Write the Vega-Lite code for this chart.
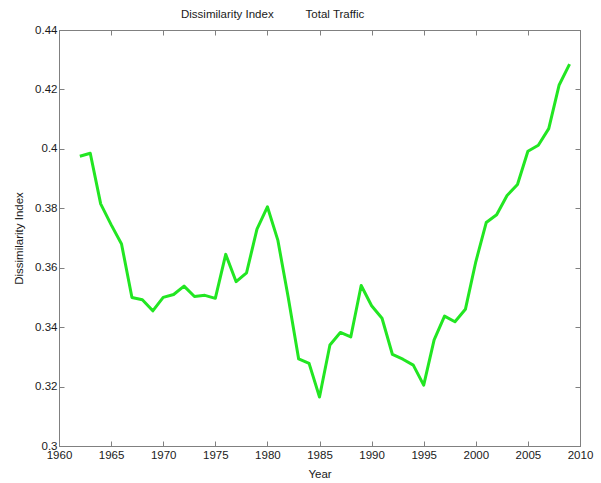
{
  "$schema": "https://vega.github.io/schema/vega-lite/v6.json",
  "autosize": "none",
  "padding": {"left": 59, "top": 30, "right": 21, "bottom": 37},
  "width": 521,
  "height": 416,
  "background": "white",
  "config": {
    "font": "Liberation Sans",
    "view": {"stroke": "#808080", "strokeWidth": 1},
    "axis": {
      "domainColor": "#808080",
      "tickColor": "#808080",
      "grid": false,
      "labelFont": "Liberation Sans",
      "labelFontSize": 11.5,
      "labelColor": "#1a1a1a",
      "labelFlush": false,
      "titleFont": "Liberation Sans",
      "titleFontSize": 11.5,
      "titleFontWeight": "normal",
      "titleColor": "#1a1a1a",
      "tickSize": -5
    }
  },
  "title": {
    "text": "Dissimilarity Index\u00a0\u00a0\u00a0\u00a0\u00a0\u00a0\u00a0\u00a0\u00a0\u00a0Total Traffic",
    "anchor": "start",
    "frame": "group",
    "dx": 122,
    "offset": 4,
    "font": "Liberation Sans",
    "fontSize": 11.5,
    "fontWeight": "normal",
    "color": "#1a1a1a"
  },
  "data": {
    "values": [
      {"year": 1962, "value": 0.3975},
      {"year": 1963, "value": 0.3985},
      {"year": 1964, "value": 0.3815},
      {"year": 1965, "value": 0.3745},
      {"year": 1966, "value": 0.3680},
      {"year": 1967, "value": 0.3500},
      {"year": 1968, "value": 0.3492},
      {"year": 1969, "value": 0.3455},
      {"year": 1970, "value": 0.3500},
      {"year": 1971, "value": 0.3510},
      {"year": 1972, "value": 0.3538},
      {"year": 1973, "value": 0.3503},
      {"year": 1974, "value": 0.3507},
      {"year": 1975, "value": 0.3497},
      {"year": 1976, "value": 0.3645},
      {"year": 1977, "value": 0.3553},
      {"year": 1978, "value": 0.3583},
      {"year": 1979, "value": 0.3730},
      {"year": 1980, "value": 0.3805},
      {"year": 1981, "value": 0.3693},
      {"year": 1982, "value": 0.3500},
      {"year": 1983, "value": 0.3293},
      {"year": 1984, "value": 0.3278},
      {"year": 1985, "value": 0.3165},
      {"year": 1986, "value": 0.3340},
      {"year": 1987, "value": 0.3382},
      {"year": 1988, "value": 0.3367},
      {"year": 1989, "value": 0.3540},
      {"year": 1990, "value": 0.3472},
      {"year": 1991, "value": 0.3430},
      {"year": 1992, "value": 0.3308},
      {"year": 1993, "value": 0.3292},
      {"year": 1994, "value": 0.3272},
      {"year": 1995, "value": 0.3205},
      {"year": 1996, "value": 0.3357},
      {"year": 1997, "value": 0.3437},
      {"year": 1998, "value": 0.3418},
      {"year": 1999, "value": 0.3460},
      {"year": 2000, "value": 0.3620},
      {"year": 2001, "value": 0.3752},
      {"year": 2002, "value": 0.3778},
      {"year": 2003, "value": 0.3843},
      {"year": 2004, "value": 0.3880},
      {"year": 2005, "value": 0.3992},
      {"year": 2006, "value": 0.4012},
      {"year": 2007, "value": 0.4068},
      {"year": 2008, "value": 0.4215},
      {"year": 2009, "value": 0.4285}
    ]
  },
  "resolve": {"axis": {"x": "independent", "y": "independent"}},
  "layer": [
    {
      "mark": {"type": "line", "color": "#22e622", "strokeWidth": 3, "strokeJoin": "round"},
      "encoding": {
        "x": {
          "field": "year", "type": "quantitative",
          "scale": {"domain": [1960, 2010], "nice": false, "zero": false},
          "axis": {"orient": "bottom", "values": [1960,1965,1970,1975,1980,1985,1990,1995,2000,2005,2010], "format": "d", "labelPadding": 8, "title": "Year", "titlePadding": 8}
        },
        "y": {
          "field": "value", "type": "quantitative",
          "scale": {"domain": [0.3, 0.44], "nice": false, "zero": false},
          "axis": {"orient": "left", "values": [0.3,0.32,0.34,0.36,0.38,0.4,0.42,0.44], "format": ".2~f", "labelPadding": 7, "title": "Dissimilarity Index", "titlePadding": 10}
        }
      }
    },
    {
      "mark": {"type": "line", "strokeOpacity": 0},
      "encoding": {
        "x": {
          "field": "year", "type": "quantitative",
          "scale": {"domain": [1960, 2010], "nice": false, "zero": false},
          "axis": {"orient": "top", "values": [1960,1965,1970,1975,1980,1985,1990,1995,2000,2005,2010], "labels": false, "title": null}
        },
        "y": {
          "field": "value", "type": "quantitative",
          "scale": {"domain": [0.3, 0.44], "nice": false, "zero": false},
          "axis": {"orient": "right", "values": [0.3,0.32,0.34,0.36,0.38,0.4,0.42,0.44], "labels": false, "title": null}
        }
      }
    }
  ]
}
